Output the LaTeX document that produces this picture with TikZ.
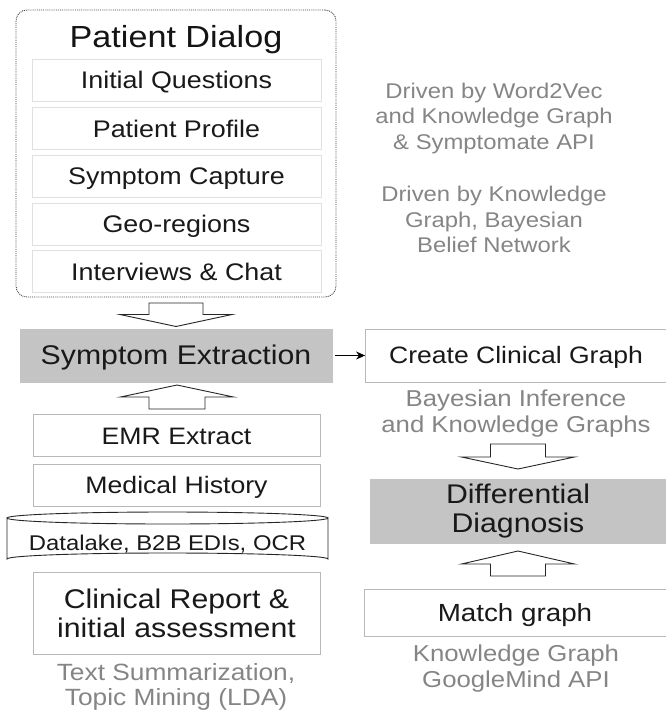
\documentclass[tikz,border=0pt]{standalone}
\usepackage{fontspec}
\setmainfont[FakeStretch=1.12]{Liberation Sans}
\usetikzlibrary{arrows.meta}
\newcommand\lowstrut{\rule[-0.12em]{0pt}{1em}}
\begin{document}
\begin{tikzpicture}[x=1pt,y=-1pt,
  low/.style={execute at begin node=\lowstrut},
  box/.style={draw=black!28, line width=0.8pt, fill=white, inner sep=0pt, text=black!90},
  inbox/.style={draw=black!12, line width=0.8pt, inner sep=0pt, minimum width=289pt, minimum height=42pt, font=\fontsize{24}{28}\selectfont, text=black!90, low},
  graybox/.style={fill=black!23, draw=black!23, inner sep=0pt, text=black!90},
  note/.style={text=black!48, align=center, inner sep=0pt, font=\fontsize{23}{26}\selectfont},
  hollow/.style={draw=black!85, line width=0.9pt, fill=white, line join=miter},
  txt/.style={inner sep=0pt}]
\useasboundingbox (0,0) rectangle (665,713);

% block arrow macro: x-centre, shaft half width, head half width, y-start(shaft end), y-head-base, y-tip
\newcommand\blockarrow[6]{%
  \draw[hollow] (#1-#2,#4) -- (#1+#2,#4) -- (#1+#2,#5) -- (#1+#3,#5) -- (#1,#6) -- (#1-#3,#5) -- (#1-#2,#5) -- cycle;}

% Patient dialog
\node[draw=black!75, densely dotted, line width=0.9pt, rounded corners=11pt, minimum width=320pt, minimum height=287pt, inner sep=0pt] (pd) at (176,153.5) {};
\node[txt, font=\fontsize{30.5}{34}\selectfont, text=black!92] (title) at (176,40) {Patient Dialog};
\node[inbox] (iq) at (176.5,80.5) {Initial Questions};
\node[inbox] (pp) at (176.5,128) {Patient Profile};
\node[inbox] (sc) at (176.5,176) {Symptom Capture};
\node[inbox] (geo) at (176.5,224) {Geo-regions};
\node[inbox] (ic) at (176.5,271) {Interviews \& Chat};

% notes top right
\node[note, font=\fontsize{21.3}{25.5}\selectfont] (n1) at (494,118) {Driven by Word2Vec\\and Knowledge Graph\\\& Symptomate API};
\node[note, font=\fontsize{21.3}{25.5}\selectfont] (n2) at (494,219.5) {Driven by Knowledge\\Graph, Bayesian\\Belief Network};

% symptom extraction
\blockarrow{176}{27}{56}{303}{314.5}{326.5}
\node[graybox, low, minimum width=312pt, minimum height=53pt, font=\fontsize{27}{30}\selectfont] (se) at (176,355.5) {Symptom Extraction};
\node[box, low, minimum width=301pt, minimum height=53pt, font=\fontsize{23.7}{27}\selectfont] (ccg) at (516,355.5) {Create Clinical Graph};
\draw[-{Stealth[length=9pt,width=8pt]}, line width=1.2pt] (se.east) ++(3,0) coordinate (sa) -- (ccg.west);
\node[note] (n3) at (516,413.5) {Bayesian Inference\\and Knowledge Graphs};

% left column
\blockarrow{177}{28}{56.5}{409}{397}{385}
\node[box, low, minimum width=287pt, minimum height=42pt, font=\fontsize{23.8}{27}\selectfont] (emr) at (176.5,435) {EMR Extract};
\node[box, low, minimum width=287pt, minimum height=42pt, font=\fontsize{23.8}{27}\selectfont] (mh) at (176.5,485) {Medical History};
% cylinder
\draw[draw=black!85, line width=0.9pt, fill=white]
  (7,518) -- (7,559) arc[start angle=180, end angle=360, x radius=160.5, y radius=6] -- (328,518)
  arc[start angle=0, end angle=180, x radius=160.5, y radius=6] -- cycle;
\draw[draw=black!85, line width=0.9pt] (7,518) arc[start angle=180, end angle=360, x radius=160.5, y radius=6];
\node[txt, low, font=\fontsize{21.3}{24}\selectfont, text=black!90] (dl) at (167.5,542) {Datalake, B2B EDIs, OCR};
\node[box, minimum width=287pt, minimum height=82pt, align=center, font=\fontsize{27}{29}\selectfont] (cr) at (176.5,613.5) {Clinical Report \&\\initial assessment};
\node[note, font=\fontsize{23.5}{25}\selectfont] (n4) at (176,687) {Text Summarization,\\Topic Mining (LDA)};

% right column
\blockarrow{518}{27.5}{56.5}{444}{457}{469}
\node[graybox, minimum width=296pt, minimum height=64pt, align=center, font=\fontsize{27}{29}\selectfont] (dd) at (518,511.5) {Differential\\Diagnosis};
\blockarrow{518}{27.5}{56.5}{576}{564}{551}
\node[box, low, minimum width=302pt, minimum height=47pt, font=\fontsize{24.8}{28}\selectfont] (mg) at (515,613) {Match graph};
\node[note] (n5) at (516,668.5) {Knowledge Graph\\GoogleMind API};
\end{tikzpicture}
\end{document}
